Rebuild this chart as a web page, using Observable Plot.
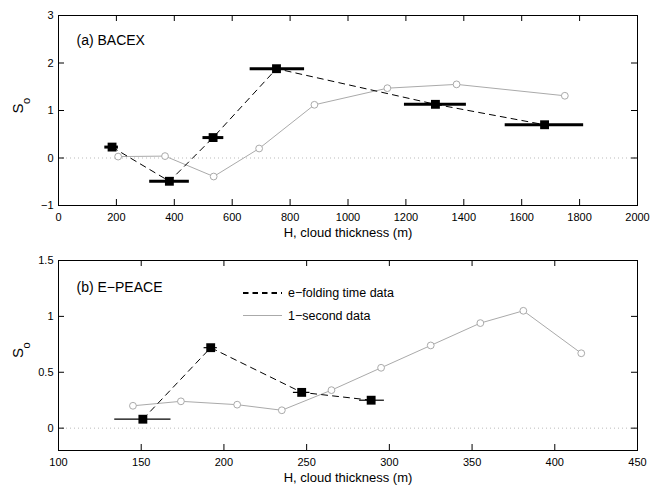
<!DOCTYPE html>
<html><head><meta charset="utf-8">
<script src="https://cdn.jsdelivr.net/npm/d3@7"></script>
<script src="https://cdn.jsdelivr.net/npm/@observablehq/plot@0.6"></script>
<style>body{margin:0;background:#fff;} #chart svg{display:block;}</style>
</head><body><div id="chart"></div>
<script>
// Panel (a) BACEX
const aEfoldH  = [185, 383, 534, 753, 1302, 1679];
const aEfoldS  = [0.23, -0.49, 0.43, 1.88, 1.13, 0.70];
const aEfoldLo = [160, 315, 499, 662, 1195, 1543];
const aEfoldHi = [207, 452, 571, 850, 1409, 1814];
const aSecH = [206, 368, 536, 693, 884, 1136, 1375, 1749];
const aSecS = [0.03, 0.04, -0.39, 0.20, 1.12, 1.47, 1.55, 1.31];
const aXTicks = [0, 200, 400, 600, 800, 1000, 1200, 1400, 1600, 1800, 2000];
const aYTicks = [-1, 0, 1, 2, 3];

// Panel (b) E-PEACE
const bEfoldH  = [151, 192, 247, 289];
const bEfoldS  = [0.08, 0.72, 0.32, 0.25];
const bEfoldLo = [134, 188, 242, 282];
const bEfoldHi = [168, 196, 252, 297];
const bSecH = [145, 174, 208, 235, 265, 295, 325, 355, 381, 416];
const bSecS = [0.20, 0.24, 0.21, 0.16, 0.34, 0.54, 0.74, 0.94, 1.05, 0.67];
const bXTicks = [100, 150, 200, 250, 300, 350, 400, 450];
const bYTicks = [0, 0.5, 1, 1.5];

const xLabel = "H, cloud thickness (m)";
const legendLabels = ["e\u2212folding time data", "1\u2212second data"];

const fmt = d => String(d).replace("-", "\u2212");
const FONT = "Liberation Sans, Arial, Helvetica, sans-serif";
const W = 651, ML = 58, MR = 14, MB = 35, TICK = 6;

function panel(o) {
  const ef = o.efH.map((h, i) => ({h, s: o.efS[i], lo: o.efLo[i], hi: o.efHi[i]}));
  const sec = o.secH.map((h, i) => ({h, s: o.secS[i]}));
  const pw = W - ML - MR, ph = o.height - o.marginTop - MB;
  const [x0, x1] = o.xDomain, [y0, y1] = o.yDomain;
  const dxT = (x1 - x0) * TICK / pw, dyT = (y1 - y0) * TICK / ph;
  const tk = {stroke: "#000", strokeWidth: 1};
  return Plot.plot({
    width: W, height: o.height,
    marginLeft: ML, marginRight: MR, marginTop: o.marginTop, marginBottom: MB,
    style: {fontFamily: FONT, fontSize: "11px", color: "#000", background: "#fff"},
    x: {domain: o.xDomain},
    y: {domain: o.yDomain},
    marks: [
      Plot.ruleY([0], {stroke: "#bbb", strokeDasharray: "1,3"}),
      Plot.line(sec, {x: "h", y: "s", stroke: "#aaa", strokeWidth: 1}),
      Plot.dot(sec, {x: "h", y: "s", stroke: "#aaa", fill: "#fff", r: 3.4, strokeWidth: 1}),
      Plot.line(ef, {x: "h", y: "s", stroke: "#000", strokeWidth: 1, strokeDasharray: "6,5"}),
      Plot.ruleY(ef, {y: "s", x1: "lo", x2: "hi", stroke: "#000", strokeWidth: o.barWidth}),
      Plot.dot(ef, {x: "h", y: "s", symbol: "square", fill: "#000", r: 5}),
      Plot.frame({stroke: "#000", strokeWidth: 1}),
      Plot.ruleX(o.xTicks, {x: d => d, y1: y0, y2: y0 + dyT, ...tk}),
      Plot.ruleX(o.xTicks, {x: d => d, y1: y1, y2: y1 - dyT, ...tk}),
      Plot.ruleY(o.yTicks, {y: d => d, x1: x0, x2: x0 + dxT, ...tk}),
      Plot.ruleY(o.yTicks, {y: d => d, x1: x1, x2: x1 - dxT, ...tk}),
      Plot.axisX(o.xTicks, {anchor: "bottom", tickSize: 0, tickPadding: 8, tickFormat: fmt, label: null, fontSize: 11}),
      Plot.axisY(o.yTicks, {anchor: "left", tickSize: 0, tickPadding: 5, tickFormat: fmt, label: null, fontSize: 11}),
      Plot.text([xLabel], {frameAnchor: "bottom", lineAnchor: "middle", dy: 27, fontSize: 13, text: d => d}),
      Plot.text(["S"], {frameAnchor: "left", lineAnchor: "middle", dx: -40.5, dy: o.sDy, rotate: -90, fontSize: 15, text: d => d}),
      Plot.text(["o"], {frameAnchor: "left", lineAnchor: "middle", dx: -32.5, dy: o.sDy - 9.5, rotate: -90, fontSize: 11, text: d => d}),
      Plot.text([o.title], {frameAnchor: "top-left", lineAnchor: "middle", dx: 18, dy: o.titleDy, fontSize: 14, textAnchor: "start", text: d => d})
    ]
  });
}

const chart = document.getElementById("chart");
const svgA = panel({
  height: 240, marginTop: 15, xDomain: [0, 2000], yDomain: [-1, 3],
  xTicks: aXTicks, yTicks: aYTicks, efH: aEfoldH, efS: aEfoldS, efLo: aEfoldLo, efHi: aEfoldHi,
  secH: aSecH, secS: aSecS, barWidth: 3, title: "(a) BACEX", titleDy: 25, sDy: 3
});
const svgB = panel({
  height: 245, marginTop: 20, xDomain: [100, 450], yDomain: [-0.2, 1.5],
  xTicks: bXTicks, yTicks: bYTicks, efH: bEfoldH, efS: bEfoldS, efLo: bEfoldLo, efHi: bEfoldHi,
  secH: bSecH, secS: bSecS, barWidth: 1.2, title: "(b) E\u2212PEACE", titleDy: 27.5, sDy: 2.5
});
chart.appendChild(svgA);
chart.appendChild(svgB);

// Legend in panel (b)
const lg = d3.select(svgB).append("g").attr("font-family", FONT).attr("font-size", 12.5).attr("text-anchor", "start");
lg.append("line").attr("x1", 243).attr("x2", 282).attr("y1", 53).attr("y2", 53)
  .attr("stroke", "#000").attr("stroke-width", 2).attr("stroke-dasharray", "5.5,4");
lg.append("line").attr("x1", 243).attr("x2", 282).attr("y1", 75.5).attr("y2", 75.5)
  .attr("stroke", "#aaa").attr("stroke-width", 1);
lg.append("text").attr("x", 288).attr("y", 53).attr("dy", "0.35em").text(legendLabels[0]);
lg.append("text").attr("x", 288).attr("y", 75.5).attr("dy", "0.35em").text(legendLabels[1]);
</script>
</body></html>
